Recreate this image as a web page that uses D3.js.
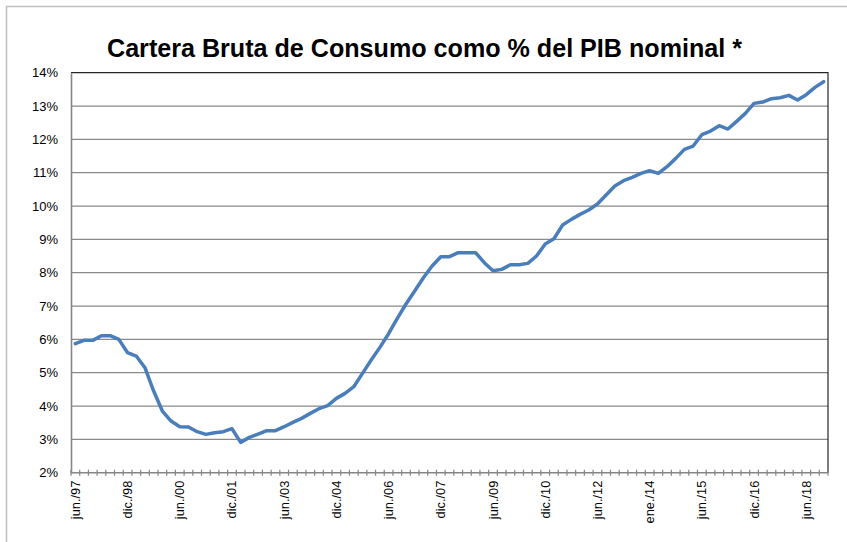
<!DOCTYPE html>
<html>
<head>
<meta charset="utf-8">
<script src="https://cdn.jsdelivr.net/npm/d3@7"></script>
<style>
  html, body { margin: 0; padding: 0; background: #fff; }
  svg { display: block; }
  text { font-family: "Liberation Sans", Arial, sans-serif; }
</style>
</head>
<body>
<svg id="chart" width="847" height="542"></svg>
<script>
// Quarterly periods (Spanish month abbreviations)
const periods = [
  "jun./97","sep./97","dic./97",
  "mar./98","jun./98","sep./98","dic./98",
  "mar./99","jun./99","sep./99","dic./99",
  "mar./00","jun./00","sep./00","dic./00",
  "mar./01","jun./01","sep./01","dic./01",
  "mar./02","jun./02","sep./02","dic./02",
  "mar./03","jun./03","sep./03","dic./03",
  "mar./04","jun./04","sep./04","dic./04",
  "mar./05","jun./05","sep./05","dic./05",
  "mar./06","jun./06","sep./06","dic./06",
  "mar./07","jun./07","sep./07","dic./07",
  "mar./08","jun./08","sep./08","dic./08",
  "mar./09","jun./09","sep./09","dic./09",
  "mar./10","jun./10","sep./10","dic./10",
  "mar./11","jun./11","sep./11","dic./11",
  "mar./12","jun./12","sep./12","dic./12",
  "mar./13","jun./13","sep./13","ene./14",
  "mar./14","jun./14","sep./14","dic./14",
  "mar./15","jun./15","sep./15","dic./15",
  "mar./16","jun./16","sep./16","dic./16",
  "mar./17","jun./17","sep./17","dic./17",
  "mar./18","jun./18","sep./18","dic./18"
];

// Consumer gross portfolio as % of nominal GDP
const carteraPct = [
  5.87, 5.97, 5.97, 6.11, 6.11, 6.00, 5.60, 5.50, 5.15, 4.45,
  3.85, 3.55, 3.38, 3.37, 3.23, 3.15, 3.20, 3.23, 3.32, 2.91,
  3.06, 3.16, 3.26, 3.26, 3.38, 3.51, 3.63, 3.78, 3.92, 4.01,
  4.23, 4.38, 4.58, 4.98, 5.38, 5.76, 6.17, 6.63, 7.06, 7.45,
  7.85, 8.20, 8.48, 8.48, 8.60, 8.60, 8.60, 8.30, 8.06, 8.10,
  8.24, 8.24, 8.28, 8.50, 8.86, 9.02, 9.43, 9.60, 9.75, 9.88,
  10.06, 10.33, 10.60, 10.76, 10.86, 10.98, 11.06, 10.98, 11.18, 11.43,
  11.70, 11.80, 12.14, 12.25, 12.41, 12.31, 12.54, 12.78, 13.08, 13.12,
  13.22, 13.25, 13.32, 13.18, 13.34, 13.56, 13.73
];

// Labelled periods on the category axis
const xTickLabels = [
  "jun./97","dic./98","jun./00","dic./01","jun./03","dic./04","jun./06","dic./07",
  "jun./09","dic./10","jun./12","ene./14","jun./15","dic./16","jun./18"
];

// Value axis ticks (percent)
const yTicks = [2, 3, 4, 5, 6, 7, 8, 9, 10, 11, 12, 13, 14];

const svg = d3.select("#chart");
const plot = { left: 71, right: 828, top: 72.7, bottom: 472.7 };

// Outer chart frame
svg.append("rect")
  .attr("x", 6.5).attr("y", 6.5)
  .attr("width", 900).attr("height", 600)
  .attr("fill", "#fff").attr("stroke", "#bfbfbf").attr("stroke-width", 1.5);

// Title
svg.append("text")
  .attr("x", 424.5).attr("y", 57)
  .attr("text-anchor", "middle")
  .attr("font-size", 25).attr("font-weight", "bold")
  .attr("fill", "#000")
  .attr("textLength", 635).attr("lengthAdjust", "spacingAndGlyphs")
  .text("Cartera Bruta de Consumo como % del PIB nominal *");

const x = d3.scaleBand()
  .domain(periods)
  .range([plot.left, plot.right])
  .paddingInner(0).paddingOuter(0);

const y = d3.scaleLinear()
  .domain([2, 14])
  .range([plot.bottom, plot.top]);

// Horizontal gridlines
svg.append("g")
  .selectAll("line")
  .data(yTicks.filter(t => t > 2 && t < 14))
  .join("line")
  .attr("x1", plot.left).attr("x2", plot.right)
  .attr("y1", d => y(d)).attr("y2", d => y(d))
  .attr("stroke", "#8a8a8a").attr("stroke-width", 1.3);

// Plot frame: top and right edges
svg.append("path")
  .attr("d", `M${plot.left},${y(14)}H${plot.right}V${plot.bottom}`)
  .attr("fill", "none").attr("stroke", "#262626").attr("stroke-width", 1.2);

// Y axis labels
const yAxis = d3.axisLeft(y)
  .tickValues(yTicks)
  .tickSize(0)
  .tickPadding(13)
  .tickFormat(d => d + "%");
const gy = svg.append("g")
  .attr("transform", `translate(${plot.left},0)`)
  .call(yAxis);
gy.select(".domain").attr("stroke", "#868686").attr("stroke-width", 1.6);
gy.selectAll("text")
  .attr("font-size", 13)
  .attr("font-family", "'Liberation Sans', Arial, sans-serif")
  .attr("fill", "#000");

// X axis: crossing tick marks between every category
const boundaries = periods.map(p => x(p)).concat([plot.right]);
svg.append("g")
  .selectAll("line")
  .data(boundaries)
  .join("line")
  .attr("x1", d => d).attr("x2", d => d)
  .attr("y1", plot.bottom - 3).attr("y2", plot.bottom + 3)
  .attr("stroke", "#868686").attr("stroke-width", 1.2);

svg.append("line")
  .attr("x1", plot.left).attr("x2", plot.right)
  .attr("y1", plot.bottom).attr("y2", plot.bottom)
  .attr("stroke", "#868686").attr("stroke-width", 1.6);

// Rotated category labels
svg.append("g")
  .selectAll("text")
  .data(xTickLabels)
  .join("text")
  .attr("transform", d => `translate(${x(d) + x.bandwidth() / 2 + 4.5},${plot.bottom + 8}) rotate(-90)`)
  .attr("text-anchor", "end")
  .attr("font-size", 12.8)
  .attr("fill", "#000")
  .text(d => d);

// Series line
const line = d3.line()
  .x((d, i) => x(periods[i]) + x.bandwidth() / 2)
  .y(d => y(d));

svg.append("path")
  .datum(carteraPct)
  .attr("d", line)
  .attr("fill", "none")
  .attr("stroke", "#4a7ebb")
  .attr("stroke-width", 3.5)
  .attr("stroke-linejoin", "round")
  .attr("stroke-linecap", "round");
</script>
</body>
</html>
